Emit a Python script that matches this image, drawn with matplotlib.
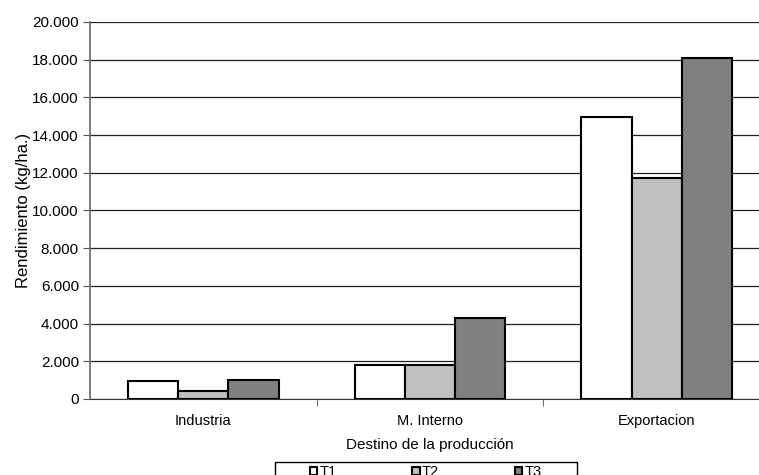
import matplotlib.pyplot as plt
import numpy as np
from matplotlib.patches import Rectangle
from matplotlib.ticker import FuncFormatter, FixedLocator

plt.rcParams['font.family'] = ['Liberation Sans', 'DejaVu Sans']

categories = ['Industria', 'M. Interno', 'Exportacion']
series = ['T1', 'T2', 'T3']
t1 = [950, 1800, 14950]
t2 = [400, 1800, 11750]
t3 = [1000, 4300, 18100]
colors = ['#FFFFFF', '#C0C0C0', '#808080']

fig = plt.figure(figsize=(7.59, 4.75), dpi=100)
ax = fig.add_axes([90 / 759, 76 / 475, 680 / 759, 377 / 475])

x = np.arange(len(categories))
width = 0.222
for i, (vals, col, name) in enumerate(zip([t1, t2, t3], colors, series)):
    ax.bar(x + (i - 1) * width, vals, width, color=col, edgecolor='black',
           linewidth=1.5, label=name, zorder=3)

ax.set_xlim(-0.5, 2.5)
ax.set_ylim(0, 20000)
ax.set_yticks(np.arange(0, 20001, 2000))
ax.yaxis.set_major_formatter(FuncFormatter(lambda v, p: f'{int(v):,}'.replace(',', '.')))
ax.grid(axis='y', color='#222222', linewidth=0.9, zorder=0)

ax.set_xticks(x)
ax.set_xticklabels(categories)
ax.xaxis.set_minor_locator(FixedLocator([0.5, 1.5]))
ax.tick_params(axis='x', which='major', length=0, pad=11, labelsize=10.5)
ax.tick_params(axis='x', which='minor', length=5, color='#555555', direction='out')
ax.tick_params(axis='y', length=5, color='#555555', labelsize=11, pad=3)

for s in ['top', 'right']:
    ax.spines[s].set_visible(False)
ax.spines['left'].set_color('#666666')
ax.spines['left'].set_linewidth(1.2)
ax.spines['bottom'].set_color('#333333')

ax.set_ylabel('Rendimiento (kg/ha.)', fontsize=12, labelpad=1)
ax.set_xlabel('Destino de la producción', fontsize=11, labelpad=7)

# legend box (cut off at the bottom edge, as in the original)
fig.patches.append(Rectangle((275 / 759, -0.05), 302 / 759, 13 / 475 + 0.05,
                             transform=fig.transFigure, fill=False,
                             edgecolor='black', linewidth=1.0))
leg = fig.legend(loc='upper left', bbox_to_anchor=(310 / 759, 10 / 475),
                 ncol=3, frameon=False, fontsize=10.5,
                 handlelength=0.5, handleheight=0.5,
                 handletextpad=0.15, columnspacing=5.2, borderpad=0,
                 borderaxespad=0)

fig.savefig('out.png', dpi=100)
